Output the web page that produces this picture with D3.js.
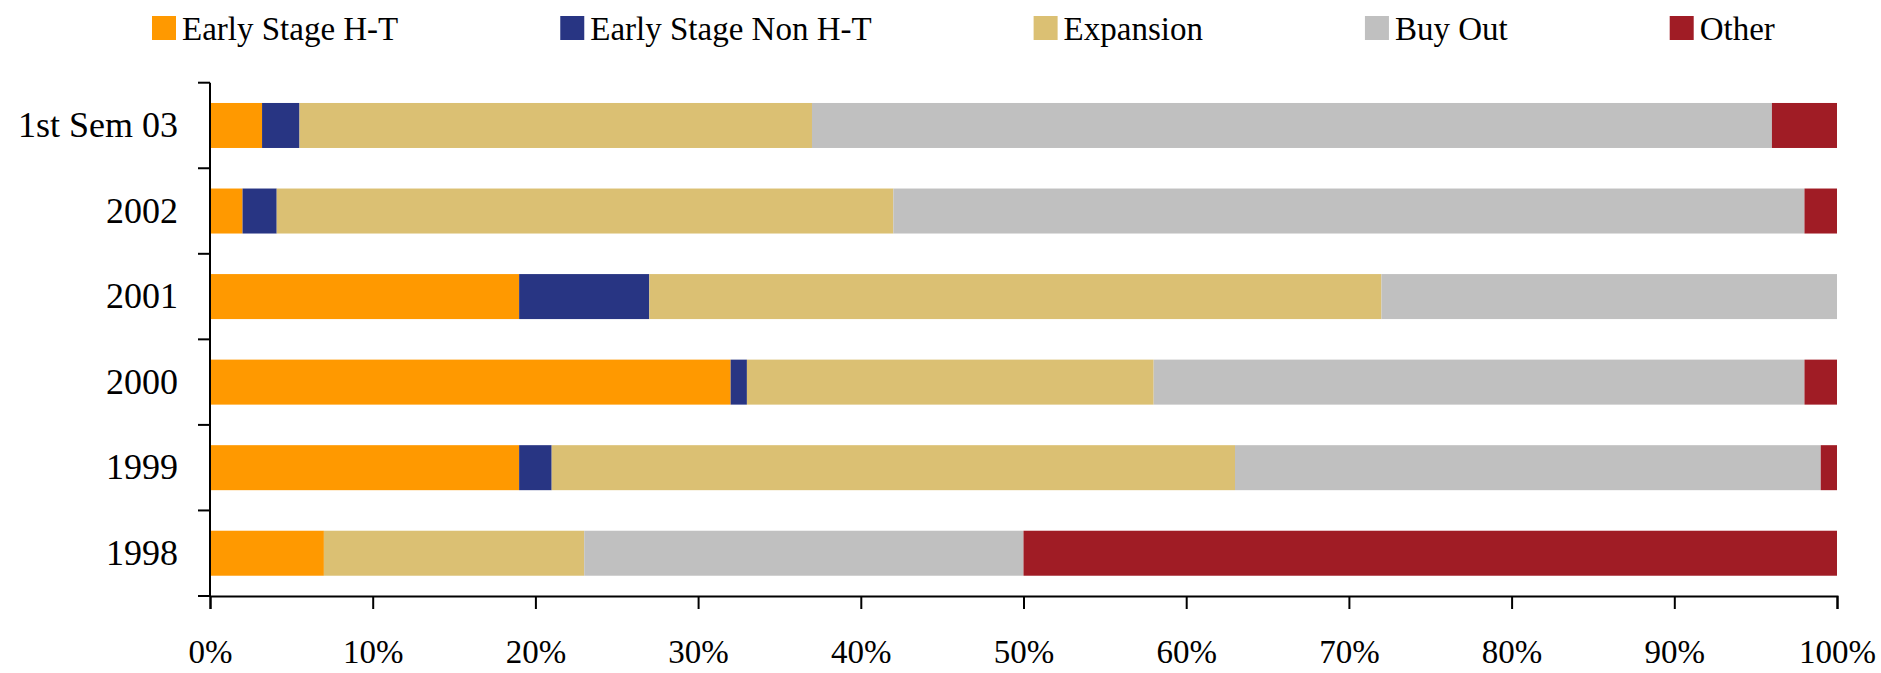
<!DOCTYPE html>
<html>
<head>
<meta charset="utf-8">
<script src="https://cdn.jsdelivr.net/npm/d3@7"></script>
<style>
  body { margin: 0; background: #fff; }
  text { font-family: "Liberation Serif", "Times New Roman", serif; fill: #000; }
</style>
</head>
<body>
<svg id="chart" width="1881" height="673"></svg>
<script>
    'use strict';

    // values in % of total
    var categories = ["1st Sem 03", "2002", "2001", "2000", "1999", "1998"];
    var earlyHT    = [3.2, 2.0, 19, 32, 19, 7];
    var earlyNonHT = [2.3, 2.1, 8, 1, 2, 0];
    var expansion  = [31.5, 37.9, 45, 25, 42, 16];
    var buyOut     = [59, 56, 28, 40, 36, 27];
    var other      = [4, 2, 0, 2, 1, 50];
    var seriesNames = ["Early Stage H-T", "Early Stage Non H-T", "Expansion", "Buy Out", "Other"];
    var colors = ["#FF9900", "#283583", "#DBC073", "#C0C0C0", "#A01C25"];
    var xTicks = [0, 10, 20, 30, 40, 50, 60, 70, 80, 90, 100];

    var margin = {top: 82.7, left: 210, right: 44, bottom: 77};
    var width = 1881 - margin.left - margin.right;
    var height = 673 - margin.top - margin.bottom;

    var rows = categories.map(function (c, i) {
        return {
            cat: c,
            "Early Stage H-T": earlyHT[i],
            "Early Stage Non H-T": earlyNonHT[i],
            "Expansion": expansion[i],
            "Buy Out": buyOut[i],
            "Other": other[i]
        };
    });

    var stacked = d3.stack().keys(seriesNames)(rows);

    var svg = d3.select("#chart");
    var g = svg.append("g").attr("transform", "translate(" + margin.left + "," + margin.top + ")");

    var x = d3.scaleLinear().domain([0, 100]).range([0, width]);
    var y = d3.scaleBand().domain(categories).range([0, height])
        .paddingInner(0.474).paddingOuter(0.237);

    // bars
    g.selectAll("g.series")
        .data(stacked)
        .join("g")
        .attr("class", "series")
        .attr("fill", function (d, i) { return colors[i]; })
        .selectAll("rect")
        .data(function (d) { return d; })
        .join("rect")
        .attr("x", function (d) { return x(d[0]); })
        .attr("y", function (d) { return y(d.data.cat); })
        .attr("width", function (d) { return Math.max(0, x(d[1]) - x(d[0])); })
        .attr("height", y.bandwidth());

    // y labels (centered in each band)
    var yAxis = g.append("g")
        .call(d3.axisLeft(y).tickSize(0).tickPadding(32));
    yAxis.select(".domain").remove();
    yAxis.selectAll("text").style("font-size", "36px");

    // y ticks at band boundaries
    var step = y.step();
    var bounds = d3.range(categories.length + 1).map(function (i) { return i * step; });
    g.append("g").selectAll("line")
        .data(bounds)
        .join("line")
        .attr("x1", -12).attr("x2", 0)
        .attr("y1", function (d) { return d; })
        .attr("y2", function (d) { return d; })
        .attr("stroke", "#000").attr("stroke-width", 2);
    g.append("line")
        .attr("x1", 0).attr("x2", 0)
        .attr("y1", 0).attr("y2", height)
        .attr("stroke", "#000").attr("stroke-width", 2);

    // x axis
    var xAxis = g.append("g")
        .attr("transform", "translate(0," + height + ")")
        .call(d3.axisBottom(x).tickValues(xTicks).tickSize(13).tickPadding(31)
            .tickFormat(function (d) { return d + "%"; }));
    xAxis.select(".domain").attr("stroke-width", 2);
    xAxis.selectAll(".tick line").attr("stroke-width", 2);
    xAxis.selectAll("text").style("font-size", "33px");

    // legend
    var legend = svg.append("g").attr("class", "legend");
    var lx = 152;
    seriesNames.forEach(function (name, i) {
        var item = legend.append("g").attr("transform", "translate(" + lx + ",0)");
        item.append("rect")
            .attr("x", 0).attr("y", 16)
            .attr("width", 24).attr("height", 24)
            .attr("fill", colors[i]);
        var t = item.append("text")
            .attr("x", 30).attr("y", 40)
            .style("font-size", "33px")
            .text(name);
        lx += 30 + t.node().getComputedTextLength() + 162;
    });
</script>
</body>
</html>
